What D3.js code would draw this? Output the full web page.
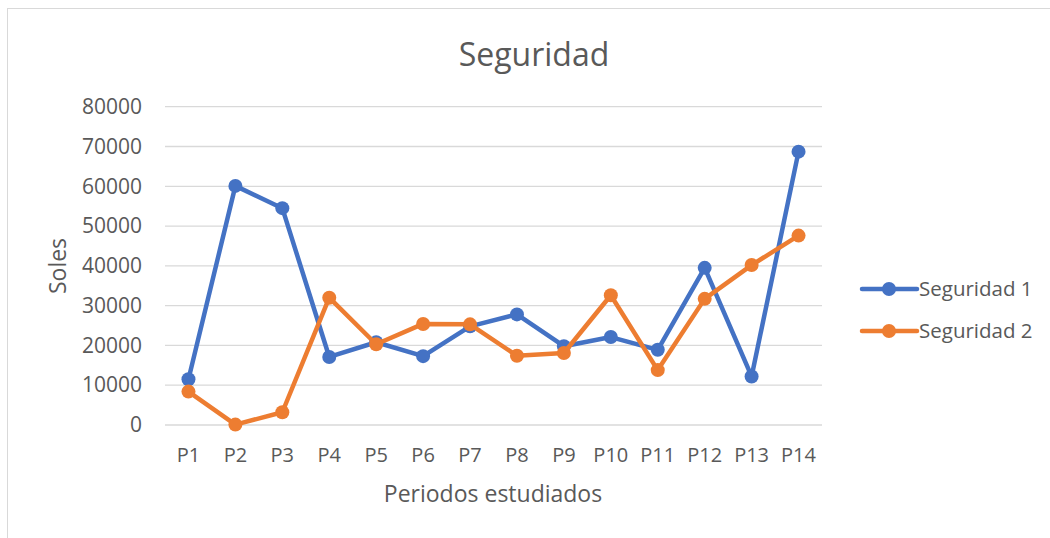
<!DOCTYPE html>
<html>
<head>
<meta charset="utf-8">
<script src="https://cdn.jsdelivr.net/npm/d3@7"></script>
<style>
  body { margin: 0; background: #fff; }
  text { font-family: "Open Sans", "Noto Sans", sans-serif; fill: #595959; }
</style>
</head>
<body>
<div id="chart"></div>
<script>
// Data
const periods = ["P1", "P2", "P3", "P4", "P5", "P6", "P7", "P8", "P9", "P10", "P11", "P12", "P13", "P14"];
const seguridad1 = [11500, 60100, 54500, 17100, 20800, 17300, 24800, 27800, 19800, 22100, 18900, 39500, 12200, 68700];
const seguridad2 = [8400, 100, 3200, 32000, 20300, 25400, 25300, 17400, 18100, 32600, 13800, 31700, 40200, 47600];
const yTicks = [0, 10000, 20000, 30000, 40000, 50000, 60000, 70000, 80000];
const seriesNames = ["Seguridad 1", "Seguridad 2"];
const seriesColors = ["#4472c4", "#ed7d31"];

function seguridadChart(config) {
  const { width, height, container } = config;
  const plot = {left: 165, top: 106.7, right: 822, bottom: 425};

  const svg = d3.select(container).append("svg")
      .attr("width", width)
      .attr("height", height);

  // chart border
  svg.append("rect")
    .attr("x", 7.5).attr("y", 8.5)
    .attr("width", width + 10).attr("height", height + 10)
    .style("fill", "none")
    .style("stroke", "#d9d9d9");

  const xScale = d3.scaleBand()
    .domain(periods)
    .range([plot.left, plot.right]);

  const yScale = d3.scaleLinear()
    .domain([0, 80000])
    .range([plot.bottom, plot.top]);

  // gridlines
  svg.append("g")
    .selectAll("line")
    .data(yTicks)
    .enter()
    .append("line")
    .attr("x1", plot.left).attr("x2", plot.right)
    .attr("y1", d => yScale(d)).attr("y2", d => yScale(d))
    .style("stroke", "#d9d9d9")
    .style("stroke-width", 1.3);

  // y-axis
  const yAxis = svg.append("g")
    .attr("transform", `translate(${plot.left},0)`)
    .call(d3.axisLeft(yScale).tickValues(yTicks).tickSize(0).tickPadding(23).tickFormat(d3.format("d")));
  yAxis.select(".domain").remove();
  yAxis.selectAll("text").style("font-size", "21px").style("fill", "#595959");

  // x-axis
  const xAxis = svg.append("g")
    .attr("transform", `translate(0,${plot.bottom})`)
    .call(d3.axisBottom(xScale).tickSize(0).tickPadding(23));
  xAxis.select(".domain").remove();
  xAxis.selectAll("text").style("font-size", "20px").style("fill", "#595959");

  // axis titles
  svg.append("text")
    .attr("x", 493)
    .attr("y", 502)
    .style("text-anchor", "middle")
    .style("font-size", "23px")
    .text("Periodos estudiados");

  svg.append("text")
    .attr("transform", `translate(66,266) rotate(-90)`)
    .style("text-anchor", "middle")
    .style("font-size", "23px")
    .text("Soles");

  // chart title
  svg.append("text")
    .attr("x", 534)
    .attr("y", 66)
    .style("text-anchor", "middle")
    .style("font-size", "32px")
    .text("Seguridad");

  const line = d3.line()
    .x((d, i) => xScale(periods[i]) + xScale.bandwidth() / 2)
    .y(d => yScale(d));

  const allSeries = [seguridad1, seguridad2];

  allSeries.forEach((values, s) => {
    svg.append("path")
      .datum(values)
      .attr("d", line)
      .style("fill", "none")
      .style("stroke", seriesColors[s])
      .style("stroke-width", 4.5)
      .style("stroke-linejoin", "round")
      .style("stroke-linecap", "round");

    svg.append("g")
      .selectAll("circle")
      .data(values)
      .enter()
      .append("circle")
      .attr("cx", (d, i) => xScale(periods[i]) + xScale.bandwidth() / 2)
      .attr("cy", d => yScale(d))
      .attr("r", 7)
      .style("fill", seriesColors[s]);
  });

  // legend
  const legend = svg.append("g")
    .selectAll("g")
    .data(seriesNames)
    .enter()
    .append("g")
    .attr("transform", (d, i) => `translate(862,${289 + i * 42})`);

  legend.append("line")
    .attr("x1", 0).attr("x2", 55)
    .attr("y1", 0).attr("y2", 0)
    .style("stroke", (d, i) => seriesColors[i])
    .style("stroke-width", 4.5)
    .style("stroke-linecap", "round");

  legend.append("circle")
    .attr("cx", 27).attr("cy", 0).attr("r", 7)
    .style("fill", (d, i) => seriesColors[i]);

  legend.append("text")
    .attr("x", 57)
    .attr("y", 7)
    .style("font-size", "20.5px")
    .text(d => d);
}

seguridadChart({ width: 1050, height: 538, container: "#chart" });
</script>
</body>
</html>
